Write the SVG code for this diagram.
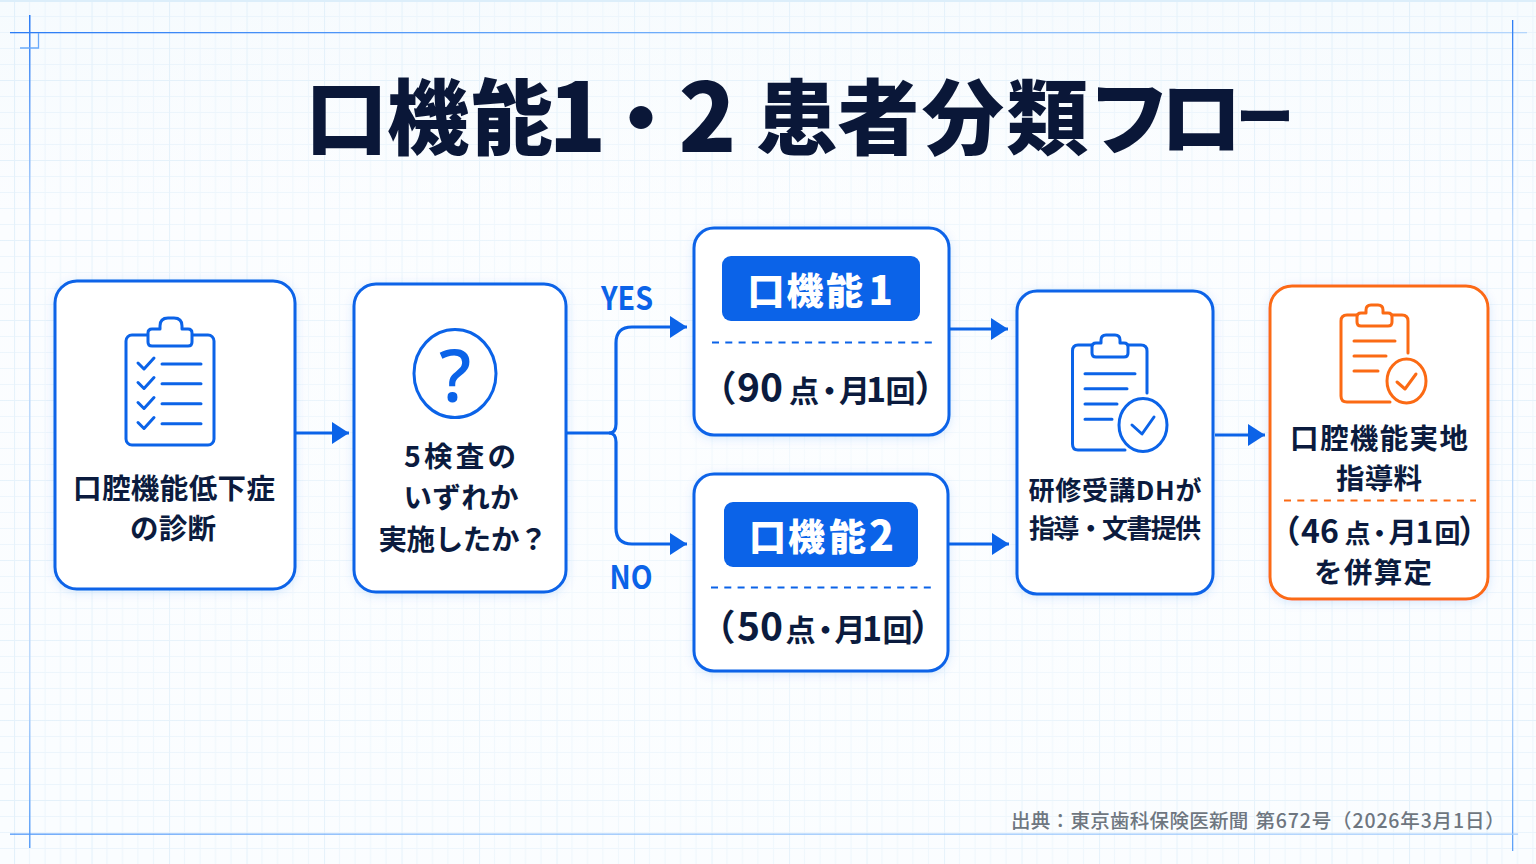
<svg xmlns="http://www.w3.org/2000/svg" width="1536" height="864" viewBox="0 0 1536 864">
<style>
text{font-family:"Noto Sans CJK JP","Noto Sans",sans-serif;font-weight:700;fill:#0b1b3e}
.c{text-anchor:middle}
.card{fill:#fff;stroke:#0b63e8;stroke-width:3;filter:url(#sh)}
.ic{fill:none;stroke:#0b63e8;stroke-width:3;stroke-linecap:round;stroke-linejoin:round}
.ico{fill:none;stroke:#fb6a14;stroke-width:3;stroke-linecap:round;stroke-linejoin:round}
.conn{fill:none;stroke:#0b63e8;stroke-width:3.2}
.lab{fill:#0b63e8}
.dash{stroke:#0b63e8;stroke-width:2.2;stroke-dasharray:7 6.300;fill:none}
.pa{font-feature-settings:"palt"}
.wh{fill:#fff;font-weight:900}
</style>
<defs>
<linearGradient id="bg" x1="0" y1="0" x2="0" y2="1"><stop offset="0" stop-color="#f6fbfe"/><stop offset="0.25" stop-color="#fbfdff"/><stop offset="1" stop-color="#fafdff"/></linearGradient>
<pattern id="grid" width="77.5" height="80" patternUnits="userSpaceOnUse" x="14" y="0">
<path d="M0 16.500H77.500M0 32.500H77.500M0 48.500H77.500M0 64.500H77.500M15.500 0V80M31 0V80M46.500 0V80M62 0V80" stroke="#eaf4fc" stroke-width="1" fill="none"/>
<path d="M.5 0V80M0 .5H77.500" stroke="#e2f0fa" stroke-width="1.200" fill="none"/>
</pattern>
<radialGradient id="veil" cx=".5" cy=".55" r=".7"><stop offset="0" stop-color="#fcfeff" stop-opacity=".6"/><stop offset="1" stop-color="#fcfeff" stop-opacity="0"/></radialGradient>
<filter id="sh" x="-10%" y="-10%" width="120%" height="120%"><feDropShadow dx="0" dy="2" stdDeviation="5" flood-color="#0b63e8" flood-opacity=".14"/></filter>
<marker id="arr" markerUnits="userSpaceOnUse" markerWidth="18" markerHeight="24" refX="17" refY="12" orient="auto"><path d="M0 1L17 12L0 23Z" fill="#0b63e8"/></marker>
<linearGradient id="hfade" x1="0" x2="1" y1="0" y2="0"><stop offset="0" stop-color="#2b7cf5"/><stop offset=".4" stop-color="#6aaafa"/><stop offset="1" stop-color="#b4d6fc"/></linearGradient>
<linearGradient id="vfade" x1="0" x2="0" y1="0" y2="1"><stop offset="0" stop-color="#2b7cf5"/><stop offset=".25" stop-color="#bcd9fb"/><stop offset=".8" stop-color="#bcd9fb"/><stop offset="1" stop-color="#5a9ff8"/></linearGradient>
<linearGradient id="hfade2" x1="0" x2="1" y1="0" y2="0"><stop offset="0" stop-color="#4f97f8"/><stop offset=".3" stop-color="#8fc0fb"/><stop offset="1" stop-color="#a8cffc"/></linearGradient>
</defs>
<rect width="1536" height="864" fill="url(#bg)"/>
<rect width="1536" height="864" fill="url(#grid)"/>
<rect width="1536" height="864" fill="url(#veil)"/>
<rect width="1536" height="2" fill="#dceefa"/>
<g id="frame">
<rect x="10" y="32" width="1517" height="1.300" fill="url(#hfade)"/>
<rect x="29" y="15" width="1.500" height="833" fill="url(#vfade)"/>
<rect x="1512" y="20" width="1.300" height="831" fill="url(#vfade)"/>
<rect x="10" y="833.500" width="1508" height="1.300" fill="url(#hfade2)"/>
<path d="M20 48H38.500V33" fill="none" stroke="#6aaafa" stroke-width="1.300"/>
</g>
<text id="title" y="148" font-size="82" style="font-weight:900;fill:#0a1738"><tspan x="305.500 387 471">口機能</tspan><tspan x="548.500" y="152" font-size="95">1</tspan><tspan x="600" y="148">・</tspan><tspan x="678.500" y="152" font-size="95">2 </tspan><tspan x="756 837.500 922 1006.500 1088 1160" y="148">患者分類フロ</tspan><tspan x="1236" y="138" font-size="58">ー</tspan></text>
<g id="connectors">
<path class="conn" d="M296 433H349" marker-end="url(#arr)"/>
<path class="conn" d="M567 433H609Q616 433 616 424V343Q616 327 632 327H687" marker-end="url(#arr)"/>
<path class="conn" d="M609 433Q616 433 616 442V528Q616 544 632 544H687" marker-end="url(#arr)"/>
<path class="conn" d="M950 329H1008" marker-end="url(#arr)"/>
<path class="conn" d="M949 544H1009" marker-end="url(#arr)"/>
<path class="conn" d="M1215 435H1265" marker-end="url(#arr)"/>
</g>
<text class="lab" x="627" y="310" font-size="32" text-anchor="middle" textLength="52" lengthAdjust="spacingAndGlyphs">YES</text>
<text class="lab" x="631" y="589" font-size="32" text-anchor="middle" textLength="43" lengthAdjust="spacingAndGlyphs">NO</text>
<g id="node-diagnosis">
<rect class="card" x="55" y="281" width="240" height="308" rx="22"/>
<rect class="ic" x="126" y="335" width="88" height="110" rx="6"/>
<path class="ic" style="fill:#fff" d="M160 329V326Q160 318 168 318H174Q182 318 182 326V329H188Q192 329 192 333V342Q192 346 188 346H152Q148 346 148 342V333Q148 329 152 329Z"/>
<path class="ic" d="M138 363L144 369L154 358M138 382.500L144 388.500L154 377.500M138 402.500L144 408.500L154 397.500M138 422.500L144 428.500L154 417.500"/>
<path class="ic" d="M162 364H201M162 383.700H201M162 403.700H201M162 423.700H201"/>
<text x="174" y="499" class="c" font-size="28.500" textLength="202" lengthAdjust="spacing">口腔機能低下症</text>
<text x="173" y="539" class="c" font-size="28.500" textLength="86" lengthAdjust="spacing">の診断</text>
</g>
<g id="node-question">
<rect class="card" x="354" y="284" width="212" height="308" rx="22"/>
<ellipse class="ic" cx="455" cy="373.500" rx="41" ry="44"/>
<text x="455" y="402" class="c" font-size="72" style="fill:#0b63e8;font-weight:500;font-family:'Noto Sans',sans-serif">?</text>
<text x="460" y="467" class="c" font-size="28.500" textLength="112" lengthAdjust="spacing">5検査の</text>
<text x="461" y="508" class="c" font-size="28.500" textLength="115" lengthAdjust="spacing">いずれか</text>
<text x="463" y="550" class="c" font-size="28.500" textLength="169" lengthAdjust="spacing">実施したか？</text>
</g>
<g id="node-kino1">
<rect class="card" x="694" y="228" width="255" height="207" rx="20"/>
<rect x="722" y="256" width="198" height="65" rx="9" fill="#0b63e8"/>
<text y="304.500" font-size="37" class="wh"><tspan class="wh" x="747.500 786.500 826">口機能</tspan><tspan class="wh" x="868.500" font-size="40">1</tspan></text>
<path class="dash" d="M712 342.500H932"/>
<text y="401.500" font-size="30"><tspan class="pa" x="717" font-size="36">（</tspan><tspan x="737" font-size="39">90</tspan><tspan x="789">点</tspan><tspan x="814.500">・</tspan><tspan x="839" font-size="31">月</tspan><tspan x="866" font-size="34">1</tspan><tspan x="885.500">回</tspan><tspan class="pa" x="916" font-size="36">）</tspan></text>
</g>
<g id="node-kino2">
<rect class="card" x="694" y="474" width="254" height="197" rx="20"/>
<rect x="724" y="502" width="194" height="65" rx="9" fill="#0b63e8"/>
<text y="550.500" font-size="37" class="wh"><tspan class="wh" x="749 788 829">口機能</tspan><tspan class="wh" x="869" font-size="41">2</tspan></text>
<path class="dash" d="M711 587.500H932"/>
<text y="640.500" font-size="30"><tspan class="pa" x="716" font-size="36">（</tspan><tspan x="737" font-size="39">50</tspan><tspan x="785.500">点</tspan><tspan x="810.500">・</tspan><tspan x="834.500" font-size="31">月</tspan><tspan x="862" font-size="34">1</tspan><tspan x="882.500">回</tspan><tspan class="pa" x="912" font-size="36">）</tspan></text>
</g>
<g id="node-dh">
<rect class="card" x="1017" y="291" width="196" height="303" rx="20"/>
<path class="ic" d="M1092 345H1078Q1072.500 345 1072.500 351V444Q1072.500 450 1078 450H1125M1128 345H1141Q1147 345 1147 351V393"/>
<path class="ic" d="M1101 343V340Q1101 335 1106 335H1115Q1120 335 1120 340V343H1124Q1128 343 1128 347V353Q1128 357 1124 357H1096Q1092 357 1092 353V347Q1092 343 1096 343Z"/>
<path class="ic" d="M1085 373.700H1135M1085 388.700H1127M1085 404H1117M1085 419.300H1112"/>
<ellipse class="ic" cx="1143" cy="425" rx="24" ry="26.500"/>
<path class="ic" d="M1132 425L1142 434L1154 417"/>
<text x="1115" y="499.500" class="c" font-size="26" textLength="173" lengthAdjust="spacing">研修受講DHが</text>
<text x="1115" y="537.500" class="c" font-size="26" textLength="172" lengthAdjust="spacing">指導・文書提供</text>
</g>
<g id="node-fee">
<rect class="card" x="1270" y="286" width="218" height="313" rx="22" style="stroke:#fb6a14"/>
<path class="ico" d="M1357 315H1347Q1341 315 1341 321V396Q1341 402 1347 402H1390M1392 315H1402Q1408 315 1408 321V353"/>
<path class="ico" d="M1366 313V310Q1366 305 1371 305H1378Q1383 305 1383 310V313H1388Q1392 313 1392 317V322Q1392 326 1388 326H1361Q1357 326 1357 322V317Q1357 313 1361 313Z"/>
<path class="ico" d="M1354 341H1395M1354 356H1386M1354 371H1378"/>
<ellipse class="ico" cx="1406.500" cy="381" rx="19.500" ry="22"/>
<path class="ico" d="M1397 382L1405 389L1416 374"/>
<text x="1379" y="449" class="c" font-size="28.500" textLength="178" lengthAdjust="spacing">口腔機能実地</text>
<text x="1379" y="489" class="c" font-size="28.500" textLength="86" lengthAdjust="spacing">指導料</text>
<path class="dash" d="M1284 500.500H1476" style="stroke:#fb6a14"/>
<text y="543" font-size="26"><tspan class="pa" x="1283" font-size="32">（</tspan><tspan x="1301" font-size="32">46</tspan><tspan x="1344.500">点</tspan><tspan x="1366.500">・</tspan><tspan x="1388.500" font-size="28">月</tspan><tspan x="1415.500" font-size="30">1</tspan><tspan x="1434.500">回</tspan><tspan class="pa" x="1460" font-size="32">）</tspan></text>
<text x="1373" y="583" class="c" font-size="28.500" textLength="118" lengthAdjust="spacing">を併算定</text>
</g>
<text id="source" y="828" font-size="19.500" style="fill:#6e7680;font-weight:500"><tspan x="1011" letter-spacing=".3">出典：東京歯科保険医新聞 </tspan><tspan x="1255.500" letter-spacing=".85">第672号（2026年3月1日）</tspan></text>
</svg>
